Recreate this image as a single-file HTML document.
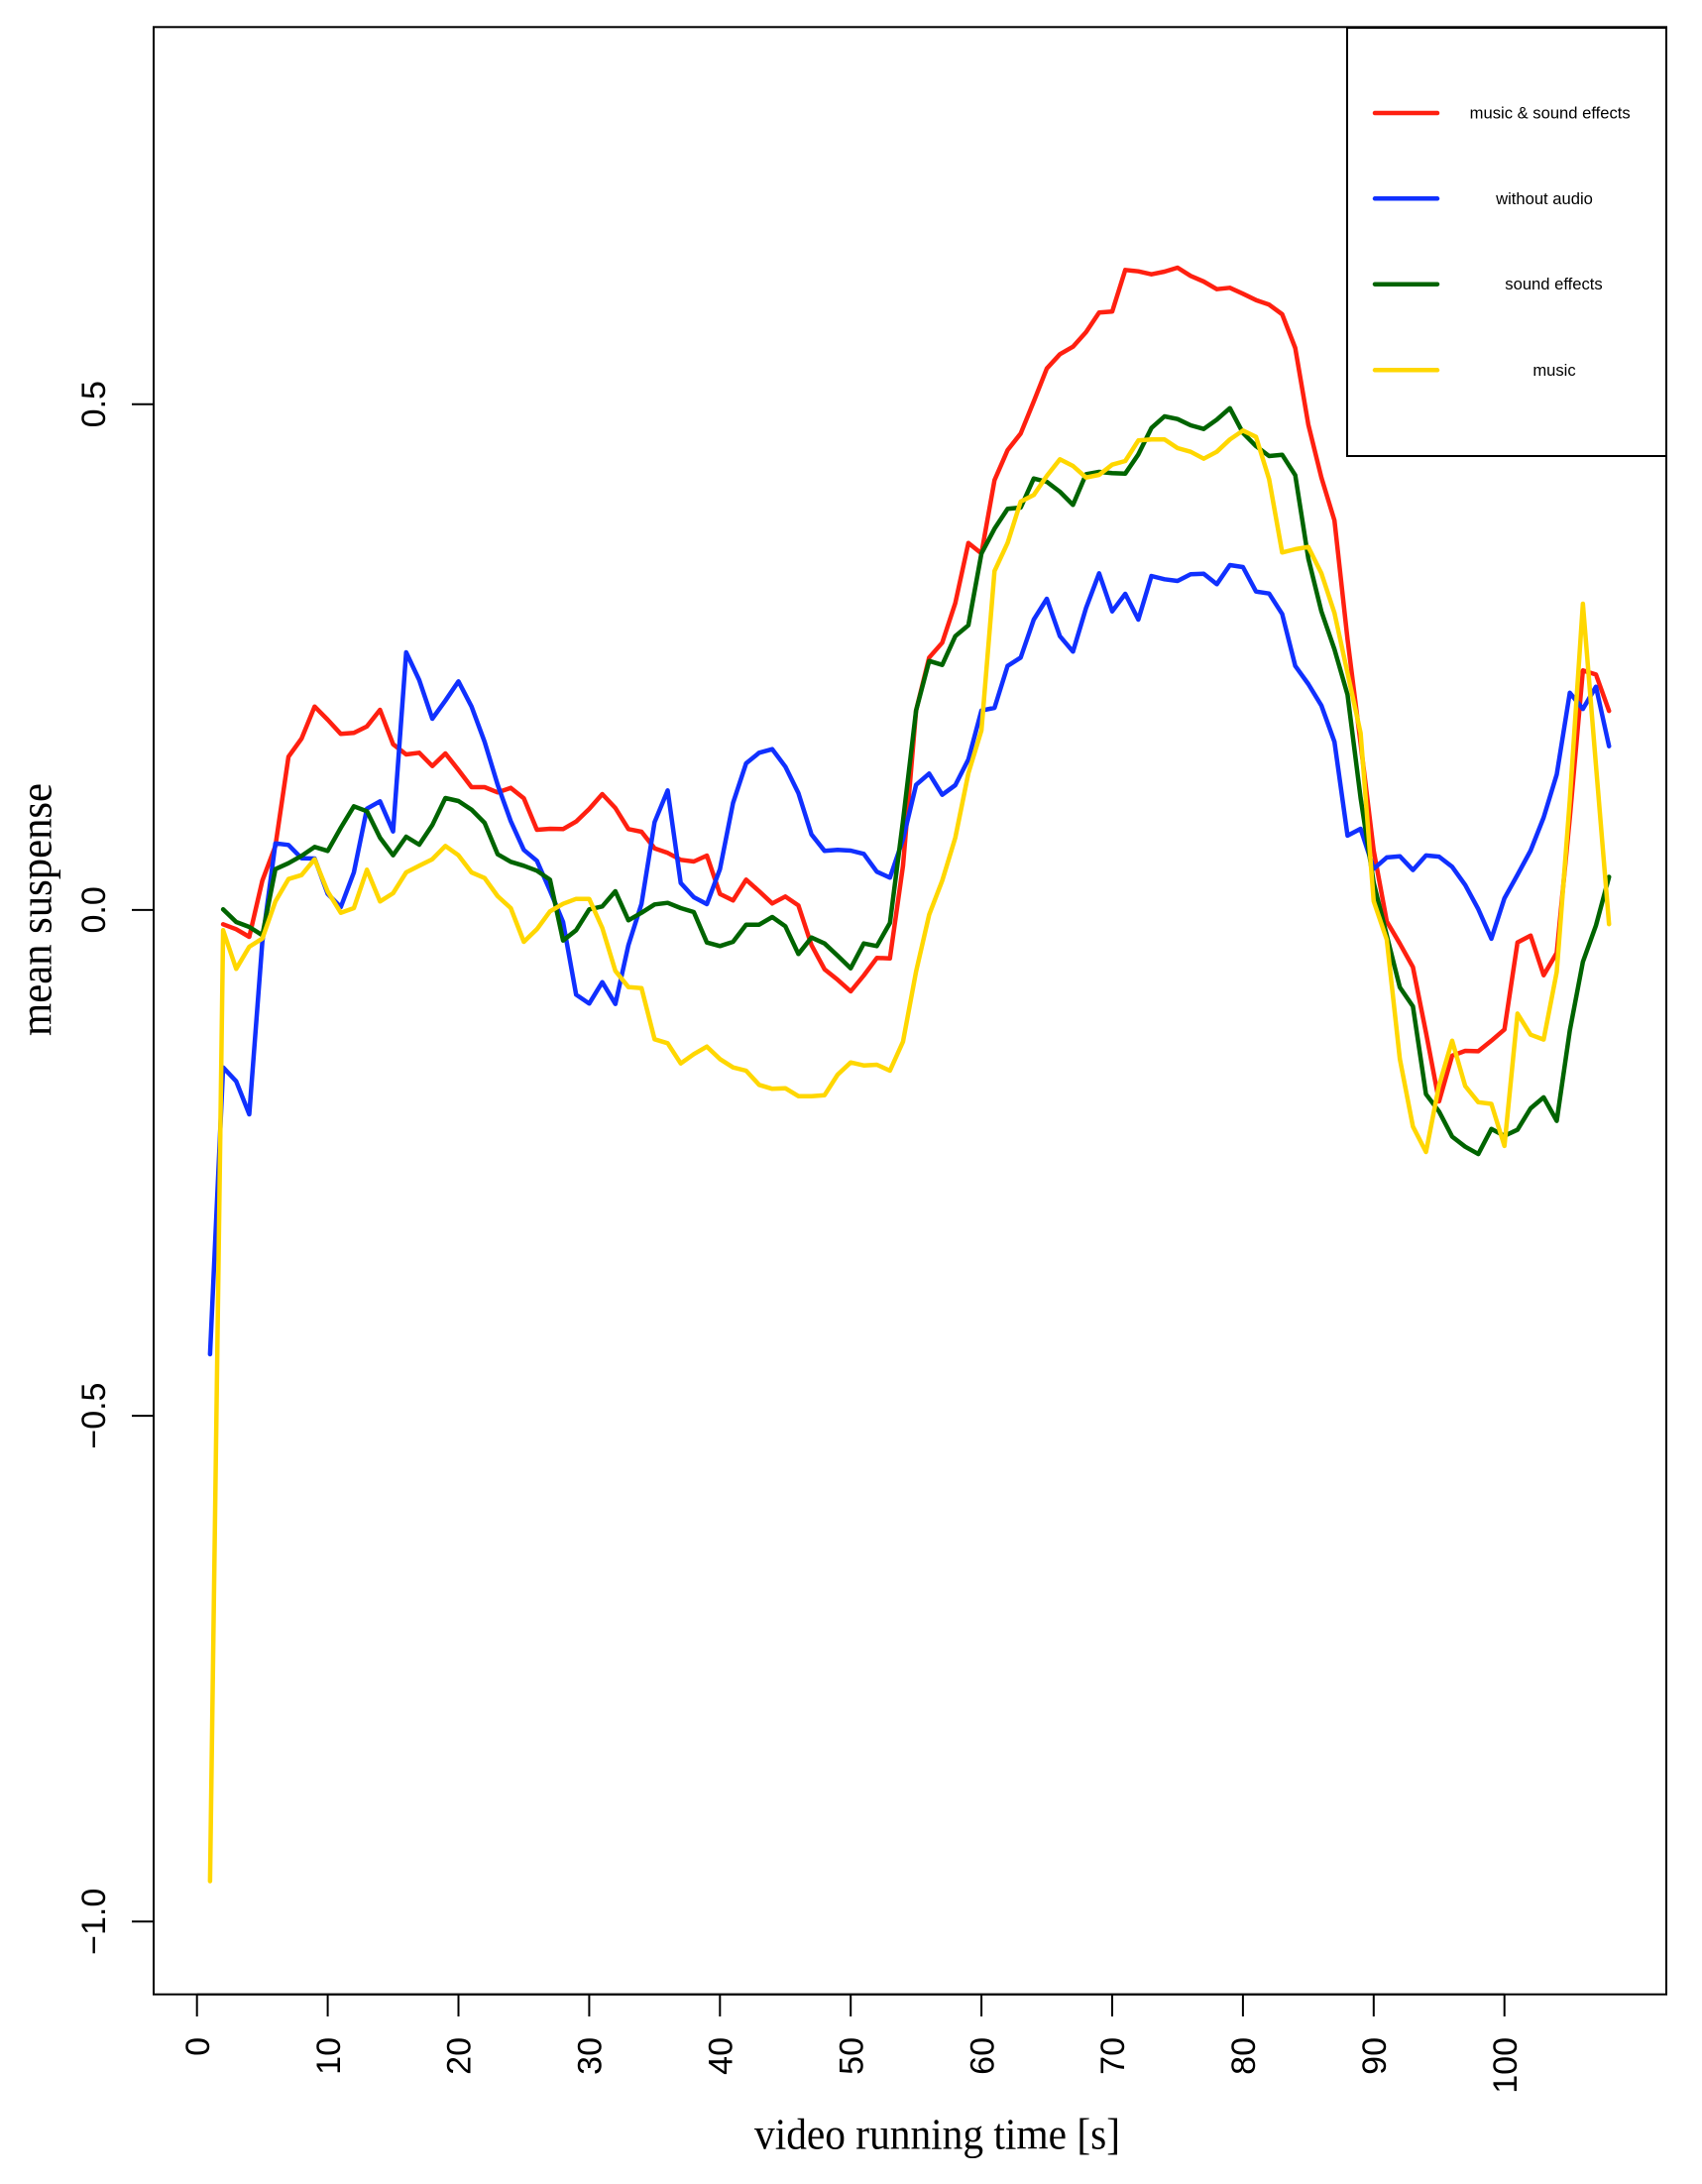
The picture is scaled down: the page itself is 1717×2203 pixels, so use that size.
<!DOCTYPE html>
<html>
<head>
<meta charset="utf-8">
<style>
html,body{margin:0;padding:0;background:#fff;}
svg{display:block;}
</style>
</head>
<body>
<svg width="1717" height="2203" viewBox="0 0 1717 2203" xmlns="http://www.w3.org/2000/svg">
<rect x="0" y="0" width="1717" height="2203" fill="#ffffff"/>

<!-- series -->
<g fill="none" stroke-width="4.5" stroke-linejoin="round" stroke-linecap="round">
<polyline stroke="#ff2010" points="225.08,932.3 238.27,937.3 251.46,945 264.65,888.3 277.84,853.3 291.03,763.3 304.22,745 317.41,712.7 330.6,726 343.79,740.3 356.98,739.3 370.17,732.7 383.36,716 396.55,750.7 409.74,761 422.93,759.3 436.12,772.7 449.31,760 462.5,776.7 475.69,794 488.88,794 502.07,799.3 515.26,794.7 528.45,805.3 541.64,837 554.83,836 568.02,836.3 581.21,828.7 594.4,816 607.59,801 620.78,815 633.97,836.3 647.16,839 660.35,855.7 673.54,860.3 686.73,867.3 699.92,869 713.11,863 726.3,901.7 739.49,908.3 752.68,887.3 765.87,899 779.06,911.3 792.25,904.3 805.44,913.3 818.63,953.3 831.82,977.7 845.01,988.3 858.2,1000 871.39,984 884.58,966.3 897.77,966.7 910.96,873.3 924.15,716.7 937.34,663.3 950.53,648.3 963.72,608.3 976.91,547.7 990.1,558.3 1003.29,484.3 1016.48,454 1029.67,437.3 1042.86,405 1056.05,371.7 1069.24,357.3 1082.43,349.7 1095.62,335 1108.81,315.3 1122,314.3 1135.19,272.3 1148.38,273.7 1161.57,276.7 1174.76,274 1187.95,270 1201.14,278.3 1214.33,284 1227.52,291.7 1240.71,290.3 1253.9,296.3 1267.09,302.7 1280.28,307.3 1293.47,317 1306.66,351 1319.85,428.3 1333.04,481.7 1346.23,525 1359.42,645 1372.61,750 1385.8,858 1398.99,929.4 1412.18,951.8 1425.37,975.5 1438.56,1041.6 1451.75,1111 1464.94,1064.9 1478.13,1060 1491.32,1060.4 1504.51,1049.8 1517.7,1038.4 1530.89,950.6 1544.08,943.7 1557.27,983.7 1570.46,961.2 1583.65,825 1596.84,676.3 1610.03,680.4 1623.22,717.1"/>
<polyline stroke="#1030ff" points="211.89,1366 225.08,1076.7 238.27,1090.7 251.46,1124 264.65,950 277.84,850.7 291.03,852.3 304.22,865.7 317.41,866 330.6,901.7 343.79,915 356.98,880 370.17,815.7 383.36,808.3 396.55,838.7 409.74,658 422.93,686 436.12,725 449.31,706.7 462.5,687.3 475.69,712.7 488.88,748.3 502.07,791.7 515.26,828.3 528.45,857.3 541.64,868.3 554.83,898.3 568.02,930 581.21,1003.3 594.4,1012.3 607.59,990.7 620.78,1012.7 633.97,953.3 647.16,911.7 660.35,829.3 673.54,797.3 686.73,890.7 699.92,905 713.11,912 726.3,876.7 739.49,810 752.68,770 765.87,759.3 779.06,755.7 792.25,773.3 805.44,800 818.63,841.7 831.82,858.3 845.01,857.3 858.2,858 871.39,861.3 884.58,879.3 897.77,885.3 910.96,846.7 924.15,791.7 937.34,780.3 950.53,801.7 963.72,792 976.91,766 990.1,716.7 1003.29,714 1016.48,671.7 1029.67,663.3 1042.86,625 1056.05,604 1069.24,641.7 1082.43,657.3 1095.62,613.3 1108.81,578.3 1122,616.7 1135.19,599 1148.38,625 1161.57,581 1174.76,584.3 1187.95,586 1201.14,579.3 1214.33,578.7 1227.52,589.3 1240.71,570 1253.9,572 1267.09,596.7 1280.28,598.7 1293.47,619.3 1306.66,671.7 1319.85,690 1333.04,711.7 1346.23,748.3 1359.42,842.9 1372.61,836 1385.8,876.3 1398.99,864.9 1412.18,863.7 1425.37,877.6 1438.56,862.9 1451.75,864.1 1464.94,874.3 1478.13,892.7 1491.32,917.1 1504.51,946.9 1517.7,906.1 1530.89,882.4 1544.08,858 1557.27,824.5 1570.46,781.2 1583.65,698.8 1596.84,715.1 1610.03,692.7 1623.22,752.7"/>
<polyline stroke="#006400" points="225.08,917.3 238.27,930 251.46,935 264.65,943.3 277.84,876.7 291.03,870.7 304.22,863.3 317.41,854.3 330.6,858.3 343.79,835 356.98,813.3 370.17,818.3 383.36,845 396.55,862.7 409.74,844 422.93,852 436.12,832.3 449.31,805 462.5,808 475.69,816.7 488.88,830 502.07,861.7 515.26,869.3 528.45,873.3 541.64,878.3 554.83,887.3 568.02,948.7 581.21,938.3 594.4,917.3 607.59,914.3 620.78,899 633.97,928.3 647.16,920.7 660.35,912.3 673.54,910.7 686.73,916 699.92,920 713.11,950.7 726.3,954.3 739.49,950 752.68,932.7 765.87,932.7 779.06,925 792.25,934.3 805.44,962.3 818.63,945.7 831.82,951.7 845.01,964 858.2,976.7 871.39,951.7 884.58,954.3 897.77,931 910.96,828 924.15,716.7 937.34,666.7 950.53,670.7 963.72,641.7 976.91,630.7 990.1,558.3 1003.29,533.3 1016.48,513.3 1029.67,512 1042.86,482.7 1056.05,486 1069.24,496 1082.43,509.3 1095.62,478.3 1108.81,476 1122,477.3 1135.19,477.7 1148.38,458.3 1161.57,431.7 1174.76,420 1187.95,422.7 1201.14,429 1214.33,432.7 1227.52,423.3 1240.71,411.7 1253.9,436.7 1267.09,450 1280.28,460 1293.47,458.7 1306.66,479.3 1319.85,563.3 1333.04,616.7 1346.23,655 1359.42,700.8 1372.61,805 1385.8,890.6 1398.99,943.7 1412.18,995.9 1425.37,1015.1 1438.56,1103.7 1451.75,1121.2 1464.94,1146.5 1478.13,1156.7 1491.32,1164.1 1504.51,1138.8 1517.7,1145.7 1530.89,1139.6 1544.08,1118 1557.27,1106.9 1570.46,1130.6 1583.65,1039.6 1596.84,970.2 1610.03,933.5 1623.22,884.5"/>
<polyline stroke="#ffd700" points="211.89,1897.5 225.08,938.3 238.27,977.3 251.46,955 264.65,946.7 277.84,909.3 291.03,886.7 304.22,882.7 317.41,866.7 330.6,899.3 343.79,920.7 356.98,916 370.17,877.3 383.36,909.3 396.55,901 409.74,880 422.93,873.3 436.12,866.7 449.31,853.3 462.5,862.7 475.69,880 488.88,885.7 502.07,904 515.26,916 528.45,950 541.64,937.3 554.83,919.3 568.02,911.7 581.21,906.7 594.4,906.7 607.59,936 620.78,979.3 633.97,995.7 647.16,996.7 660.35,1048.3 673.54,1052.3 686.73,1072.7 699.92,1063.3 713.11,1055.7 726.3,1068.3 739.49,1076.7 752.68,1080 765.87,1094.3 779.06,1098.3 792.25,1097.7 805.44,1105.7 818.63,1105.7 831.82,1104.7 845.01,1084 858.2,1071.7 871.39,1074.7 884.58,1074 897.77,1080 910.96,1050.7 924.15,980 937.34,922.7 950.53,888.3 963.72,845 976.91,780 990.1,736.7 1003.29,576 1016.48,547.7 1029.67,506 1042.86,499.3 1056.05,480 1069.24,463.3 1082.43,470 1095.62,481.7 1108.81,479 1122,468.7 1135.19,465 1148.38,444.3 1161.57,443.3 1174.76,443.3 1187.95,452 1201.14,455.7 1214.33,462.7 1227.52,455.7 1240.71,443.3 1253.9,434.3 1267.09,440.7 1280.28,483.3 1293.47,557.3 1306.66,554 1319.85,551.7 1333.04,578.3 1346.23,618.3 1359.42,679 1372.61,739.5 1385.8,909 1398.99,947.8 1412.18,1068.2 1425.37,1136.3 1438.56,1162 1451.75,1094.7 1464.94,1049.8 1478.13,1095.5 1491.32,1111.8 1504.51,1113.5 1517.7,1155.9 1530.89,1022.4 1544.08,1043.7 1557.27,1048.6 1570.46,980.4 1583.65,807 1596.84,609 1610.03,772 1623.22,932.2"/>
</g>

<!-- plot frame -->
<rect x="155" y="27.3" width="1526" height="1984.4" fill="none" stroke="#000" stroke-width="2"/>

<!-- legend -->
<rect x="1359" y="28" width="322" height="432" fill="#ffffff" stroke="#000" stroke-width="2"/>
<g stroke-width="4.5" stroke-linecap="round">
<line x1="1387" y1="114" x2="1450" y2="114" stroke="#ff2010"/>
<line x1="1387" y1="200.3" x2="1450" y2="200.3" stroke="#1030ff"/>
<line x1="1387" y1="286.7" x2="1450" y2="286.7" stroke="#006400"/>
<line x1="1387" y1="373.3" x2="1450" y2="373.3" stroke="#ffd700"/>
</g>
<g font-family="'Liberation Sans', Arial, sans-serif" font-size="16.6" fill="#000" text-anchor="middle">
<text x="1563.7" y="119.5">music &amp; sound effects</text>
<text x="1558" y="205.8">without audio</text>
<text x="1567.5" y="292.2">sound effects</text>
<text x="1568" y="378.8">music</text>
</g>

<!-- x axis ticks -->
<g stroke="#000" stroke-width="2">
<line x1="198.7" y1="2011.7" x2="1517.7" y2="2011.7"/>
<line x1="198.7" y1="2011.7" x2="198.7" y2="2034"/>
<line x1="330.6" y1="2011.7" x2="330.6" y2="2034"/>
<line x1="462.5" y1="2011.7" x2="462.5" y2="2034"/>
<line x1="594.4" y1="2011.7" x2="594.4" y2="2034"/>
<line x1="726.3" y1="2011.7" x2="726.3" y2="2034"/>
<line x1="858.2" y1="2011.7" x2="858.2" y2="2034"/>
<line x1="990.1" y1="2011.7" x2="990.1" y2="2034"/>
<line x1="1122" y1="2011.7" x2="1122" y2="2034"/>
<line x1="1253.9" y1="2011.7" x2="1253.9" y2="2034"/>
<line x1="1385.8" y1="2011.7" x2="1385.8" y2="2034"/>
<line x1="1517.7" y1="2011.7" x2="1517.7" y2="2034"/>
<!-- y axis ticks -->
<line x1="155" y1="407.7" x2="133" y2="407.7"/>
<line x1="155" y1="917.9" x2="133" y2="917.9"/>
<line x1="155" y1="1428.1" x2="133" y2="1428.1"/>
<line x1="155" y1="1938.3" x2="133" y2="1938.3"/>
</g>

<g font-family="'Liberation Sans', Arial, sans-serif" font-size="34" fill="#000">
<text text-anchor="end" transform="translate(210.9,2055) rotate(-90)">0</text>
<text text-anchor="end" transform="translate(342.8,2055) rotate(-90)">10</text>
<text text-anchor="end" transform="translate(474.7,2055) rotate(-90)">20</text>
<text text-anchor="end" transform="translate(606.6,2055) rotate(-90)">30</text>
<text text-anchor="end" transform="translate(738.5,2055) rotate(-90)">40</text>
<text text-anchor="end" transform="translate(870.4,2055) rotate(-90)">50</text>
<text text-anchor="end" transform="translate(1002.3,2055) rotate(-90)">60</text>
<text text-anchor="end" transform="translate(1134.2,2055) rotate(-90)">70</text>
<text text-anchor="end" transform="translate(1266.1,2055) rotate(-90)">80</text>
<text text-anchor="end" transform="translate(1398,2055) rotate(-90)">90</text>
<text text-anchor="end" transform="translate(1529.9,2055) rotate(-90)">100</text>

<text text-anchor="middle" transform="translate(106,407.7) rotate(-90)">0.5</text>
<text text-anchor="middle" transform="translate(106,917.9) rotate(-90)">0.0</text>
<text text-anchor="middle" transform="translate(106,1428.1) rotate(-90)">−0.5</text>
<text text-anchor="middle" transform="translate(106,1938.3) rotate(-90)">−1.0</text>
</g>

<g font-family="'Liberation Serif', 'Times New Roman', serif" fill="#000">
<text x="945.5" y="2167.3" font-size="44" text-anchor="middle" textLength="369" lengthAdjust="spacingAndGlyphs">video running time [s]</text>
<text transform="translate(51.7,917.5) rotate(-90)" font-size="46" text-anchor="middle" textLength="255" lengthAdjust="spacingAndGlyphs">mean suspense</text>
</g>
</svg>
</body>
</html>
